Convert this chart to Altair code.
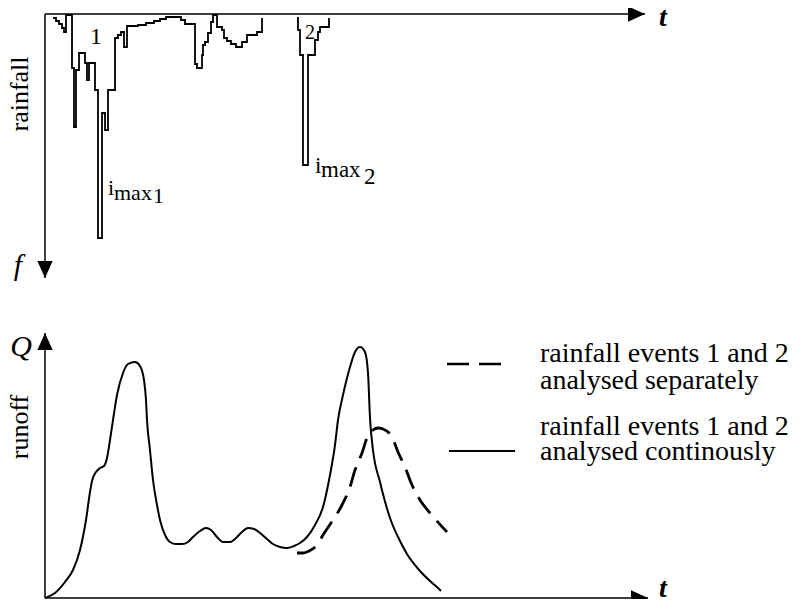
import altair as alt
import pandas as pd

# ---------------- data ----------------
# Hyetograph (rainfall intensity hanging down from the time axis), step series
ev1_t = [8, 11, 14, 17, 19, 21, 27, 29, 31, 34, 40, 42, 44, 50, 53, 57, 60, 63, 70, 73,
         76, 79, 82, 93, 101, 109, 115, 121, 136, 140, 150, 152, 157, 158, 160, 163, 166, 168, 172, 177,
         179, 182, 186, 191, 197, 202, 212, 217]
ev1_i = [4, 7, 10, 14, 18, 1, 54, 113, 56, 39, 49, 66, 49, 76, 224, 99, 116, 76, 24, 21,
         18, 33, 12, 11, 9, 7, 5, 3, 6, 10, 50, 54, 41, 31, 28, 19, 8, 1, 13, 16,
         24, 27, 30, 33, 28, 21, 18, 4]
ev2_t = [252, 253, 255, 258, 263, 270, 273, 275, 284]
ev2_i = [4, 16, 41, 151, 41, 26, 18, 13, 4]

# Runoff, events analysed continuously (solid)
cont_t = [0, 10, 20, 28, 35, 41, 45, 47, 51, 55, 59, 62, 65, 68, 72, 78, 83, 90, 95, 99,
          101, 102, 105, 108, 112, 115, 120, 125, 131, 137, 143, 148, 155, 161, 166, 172, 178, 185, 191, 197,
          203, 209, 215, 222, 228, 235, 242, 249, 255, 262, 270, 278, 285, 290, 293, 298, 305, 310, 315, 320,
          323, 325, 328, 335, 345, 355, 362, 375, 385, 393, 396]
cont_q = [0, 5, 16, 28, 48, 78, 106, 117, 126, 130, 132, 140, 158, 178, 203, 225, 234, 236, 232, 218,
          198, 178, 148, 118, 93, 78, 63, 56, 54, 54, 56, 61, 67, 70, 68, 61, 56, 56, 60, 66,
          70, 69, 65, 59, 54, 51, 50, 52, 55, 61, 73, 91, 123, 153, 178, 203, 231, 246, 251, 246,
          225, 180, 148, 116, 80, 57, 44, 27, 17, 10, 7]

# Runoff, events analysed separately (dashed)
sep_t = [252, 258, 264, 272, 278, 288, 297, 305, 310, 317, 322, 328, 333, 338, 347, 353, 360, 367, 375, 385, 402]
sep_q = [45, 45, 47, 53, 63, 78, 93, 111, 128, 145, 160, 168, 170, 169, 161, 146, 131, 113, 98, 85, 66]

T_TOP_END = 600
T_BOT_END = 603
I_END = 264
Q_END = 265

legend_sep = ["rainfall events 1 and 2", "analysed separately"]
legend_cont = ["rainfall events 1 and 2", "analysed continously"]

# ---------------- scales ----------------
XS = alt.Scale(domain=[0, 600], range=[37, 637], nice=False, zero=False)
YR = alt.Scale(domain=[0, I_END], range=[6, 270], nice=False, zero=False)
YQ = alt.Scale(domain=[0, Q_END], range=[590, 325], nice=False, zero=False)

FONT = "Liberation Serif"
RIGHT = "M-2,-0.9L0,0L-2,0.9Z"
DOWN = "M-0.9,-2L0,0L0.9,-2Z"
UP = "M-0.9,2L0,0L0.9,2Z"


def xenc(f):
    return alt.X(f, scale=XS, axis=None)


layers = []

# hyetograph
rain_df = pd.concat([
    pd.DataFrame({"t": ev1_t, "i": ev1_i, "event": "1"}),
    pd.DataFrame({"t": ev2_t, "i": ev2_i, "event": "2"}),
])
layers.append(
    alt.Chart(rain_df).mark_line(interpolate="step-after", color="black", strokeWidth=1.8)
    .encode(x=xenc("t:Q"), y=alt.Y("i:Q", scale=YR, axis=None), detail="event:N")
)

# hydrographs
layers.append(
    alt.Chart(pd.DataFrame({"t": cont_t, "q": cont_q}))
    .mark_line(interpolate="monotone", color="black", strokeWidth=2)
    .encode(x=xenc("t:Q"), y=alt.Y("q:Q", scale=YQ, axis=None))
)
layers.append(
    alt.Chart(pd.DataFrame({"t": sep_t, "q": sep_q}))
    .mark_line(interpolate="monotone", color="black", strokeWidth=2.8, strokeDash=[20, 10])
    .encode(x=xenc("t:Q"), y=alt.Y("q:Q", scale=YQ, axis=None))
)

# axes (top panel)
layers.append(
    alt.Chart(pd.DataFrame({"t0": [0], "t1": [T_TOP_END], "v": [0]}))
    .mark_rule(color="black", strokeWidth=1.5)
    .encode(x=xenc("t0:Q"), x2="t1:Q", y=alt.Y("v:Q", scale=YR, axis=None))
)
layers.append(
    alt.Chart(pd.DataFrame({"t": [0], "v0": [0], "v1": [I_END]}))
    .mark_rule(color="black", strokeWidth=1.5)
    .encode(x=xenc("t:Q"), y=alt.Y("v0:Q", scale=YR, axis=None), y2="v1:Q")
)
layers.append(
    alt.Chart(pd.DataFrame({"t": [T_TOP_END], "v": [0]}))
    .mark_point(shape=RIGHT, size=289, filled=True, color="black", opacity=1, strokeWidth=0)
    .encode(x=xenc("t:Q"), y=alt.Y("v:Q", scale=YR, axis=None))
)
layers.append(
    alt.Chart(pd.DataFrame({"t": [0], "v": [I_END]}))
    .mark_point(shape=DOWN, size=289, filled=True, color="black", opacity=1, strokeWidth=0)
    .encode(x=xenc("t:Q"), y=alt.Y("v:Q", scale=YR, axis=None))
)

# axes (bottom panel)
layers.append(
    alt.Chart(pd.DataFrame({"t0": [0], "t1": [T_BOT_END], "v": [0]}))
    .mark_rule(color="black", strokeWidth=1.5)
    .encode(x=xenc("t0:Q"), x2="t1:Q", y=alt.Y("v:Q", scale=YQ, axis=None))
)
layers.append(
    alt.Chart(pd.DataFrame({"t": [0], "v0": [0], "v1": [Q_END]}))
    .mark_rule(color="black", strokeWidth=1.5)
    .encode(x=xenc("t:Q"), y=alt.Y("v0:Q", scale=YQ, axis=None), y2="v1:Q")
)
layers.append(
    alt.Chart(pd.DataFrame({"t": [T_BOT_END], "v": [0]}))
    .mark_point(shape=RIGHT, size=289, filled=True, color="black", opacity=1, strokeWidth=0)
    .encode(x=xenc("t:Q"), y=alt.Y("v:Q", scale=YQ, axis=None))
)
layers.append(
    alt.Chart(pd.DataFrame({"t": [0], "v": [Q_END]}))
    .mark_point(shape=UP, size=289, filled=True, color="black", opacity=1, strokeWidth=0)
    .encode(x=xenc("t:Q"), y=alt.Y("v:Q", scale=YQ, axis=None))
)


def label(text, x, y, size, align="left", baseline="alphabetic", style="normal", angle=0, weight="normal"):
    kw = dict(font=FONT, fontSize=size, align=align, baseline=baseline, color="black",
              fontStyle=style, fontWeight=weight)
    if angle:
        kw["angle"] = angle
    return (
        alt.Chart(pd.DataFrame({"s": [text]}))
        .mark_text(**kw)
        .encode(x=alt.value(x), y=alt.value(y), text="s:N")
    )


# axis titles / symbols
layers.append(label("rainfall", 20, 86, 26, align="center", angle=270))
layers.append(label("runoff", 20, 419, 26, align="center", angle=270))
layers.append(label("f", 10, 258, 30, align="center", baseline="middle", style="italic"))
layers.append(label("Q", 13, 339, 30, align="center", baseline="middle", style="italic"))
layers.append(label("t", 655, 18, 28, align="center", style="italic", weight="bold"))
layers.append(label("t", 655, 589, 28, align="center", style="italic", weight="bold"))

# event labels
layers.append(label("1", 88, 29, 24, align="center", baseline="middle"))
layers.append(label("2", 302, 25, 20, align="center", baseline="middle"))
layers.append(label("i", 100, 187, 22))
layers.append(label("max", 106, 192, 22))
layers.append(label("1", 145, 195, 22))
layers.append(label("i", 307, 165, 23))
layers.append(label("max", 313, 169, 23))
layers.append(label("2", 356, 176, 23))

# legend
layers.append(
    alt.Chart(pd.DataFrame({"s": ["sep"]})).mark_rule(color="black", strokeWidth=2.5, strokeDash=[22, 10])
    .encode(x=alt.value(439), x2=alt.value(494), y=alt.value(356))
)
layers.append(
    alt.Chart(pd.DataFrame({"s": ["cont"]})).mark_rule(color="black", strokeWidth=2)
    .encode(x=alt.value(441), x2=alt.value(507), y=alt.value(443))
)
layers.append(label(legend_sep[0], 532, 354, 28))
layers.append(label(legend_sep[1], 532, 381, 28))
layers.append(label(legend_cont[0], 532, 427, 28))
layers.append(label(legend_cont[1], 532, 452, 28))

chart = (
    alt.layer(*layers)
    .resolve_scale(y="independent")
    .properties(width=784, height=591, padding=0, background="white",
                autosize=alt.AutoSizeParams(type="none"))
    .configure_view(stroke=None)
)

chart.save("out.html", embed_options={"renderer": "svg", "actions": False})
